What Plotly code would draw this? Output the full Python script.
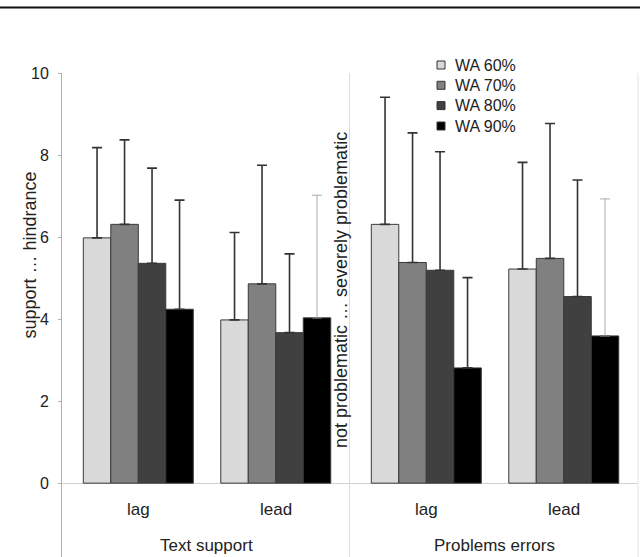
import plotly.graph_objects as go

categories = ["lag", "lead"]
panels = ["Text support", "Problems errors"]
series = ["WA 60%", "WA 70%", "WA 80%", "WA 90%"]
colors = ["#d9d9d9", "#808080", "#404040", "#000000"]

# means per series: [lag, lead]
text_support_means = {
    "WA 60%": [5.98, 3.98],
    "WA 70%": [6.31, 4.86],
    "WA 80%": [5.36, 3.67],
    "WA 90%": [4.24, 4.03],
}
text_support_upper = {
    "WA 60%": [8.18, 6.11],
    "WA 70%": [8.37, 7.75],
    "WA 80%": [7.68, 5.59],
    "WA 90%": [6.90, 7.02],
}
problems_means = {
    "WA 60%": [6.31, 5.22],
    "WA 70%": [5.38, 5.48],
    "WA 80%": [5.19, 4.55],
    "WA 90%": [2.81, 3.59],
}
problems_upper = {
    "WA 60%": [9.41, 7.82],
    "WA 70%": [8.54, 8.77],
    "WA 80%": [8.08, 7.39],
    "WA 90%": [5.01, 6.93],
}

y_ticks = [0, 2, 4, 6, 8, 10]
left_title = "support … hindrance"
right_title = "not problematic … severely problematic"

FONT = "Liberation Sans, Arial, sans-serif"
TXT = "#222222"

W, H = 640, 557
ML, MR, MT, MB = 62, 2, 73, 0
PW, PH = W - ML - MR, H - MT - MB


def px_x(p):
    return (p - ML) / PW


def px_y(p):
    return (H - MB - p) / PH


fig = go.Figure()

panel_data = [(text_support_means, text_support_upper, "x", "y"),
              (problems_means, problems_upper, "x2", "y2")]

for pi, (means, upper, xa, ya) in enumerate(panel_data):
    for si, s in enumerate(series):
        vals = means[s]
        errs = [u - v for u, v in zip(upper[s], vals)]
        thin = s == "WA 90%"
        main_err = [errs[0], None] if thin else errs
        fig.add_trace(go.Bar(
            x=categories, y=vals, name=s, xaxis=xa, yaxis=ya,
            offsetgroup=s, legendgroup=s, showlegend=False,
            marker=dict(color=colors[si], line=dict(color="#3a3a3a", width=1)),
            error_y=dict(type="data", symmetric=False, array=main_err,
                         arrayminus=[0] * len(vals), color="#333333",
                         thickness=1.6, width=5),
        ))
        if thin:
            fig.add_trace(go.Bar(
                x=[categories[1]], y=[vals[1]], name=s, xaxis=xa, yaxis=ya,
                offsetgroup=s, legendgroup=s, showlegend=False,
                marker=dict(color="rgba(0,0,0,0)", line=dict(width=0)),
                error_y=dict(type="data", symmetric=False, array=[errs[1]],
                             arrayminus=[0], color="#a0a0a0",
                             thickness=0.9, width=5),
                hoverinfo="skip",
            ))

yrange = [-1.8, 10]
xrange = [-0.555, 1.54]

annotations = []
for xa in ["x", "x2"]:
    for c in categories:
        annotations.append(dict(x=c, y=-0.63, xref=xa, yref="y", text=c,
                                showarrow=False, font=dict(size=17, color=TXT, family=FONT)))
for xa, p in zip(["x domain", "x2 domain"], panels):
    annotations.append(dict(x=0.5, y=-1.51, xref=xa, yref="y", text=p,
                            showarrow=False, font=dict(size=17, color=TXT, family=FONT)))
annotations.append(dict(x=px_x(17.5), xref="paper", y=px_y(255), yref="paper",
                        text=left_title, textangle=-90, showarrow=False,
                        font=dict(size=18, color=TXT, family=FONT)))
annotations.append(dict(x=px_x(341), xref="paper", y=px_y(290), yref="paper",
                        text=right_title, textangle=-90, showarrow=False,
                        font=dict(size=18, color=TXT, family=FONT)))

# legend (drawn manually to match the compact row spacing)
legend_rows = [65, 85.3, 105.6, 126]
shapes = []
for s, col, ry in zip(series, colors, legend_rows):
    shapes.append(dict(type="rect", xref="paper", yref="paper",
                       x0=px_x(437), x1=px_x(445), y0=px_y(ry + 4), y1=px_y(ry - 4),
                       fillcolor=col, line=dict(color="#333333", width=1)))
    annotations.append(dict(x=px_x(453), y=px_y(ry), xref="paper", yref="paper",
                            text=s, xanchor="left", yanchor="middle", showarrow=False,
                            font=dict(size=16, color=TXT, family=FONT)))

shapes += [
    dict(type="line", xref="paper", yref="paper", x0=px_x(0), x1=px_x(W),
         y0=px_y(7.5), y1=px_y(7.5), line=dict(color="#111111", width=2)),
    dict(type="line", xref="paper", yref="paper", x0=1, x1=1,
         y0=0, y1=1, line=dict(color="#e4e4e4", width=1)),
]

fig.update_layout(
    width=W, height=H,
    margin=dict(l=ML, r=MR, t=MT, b=MB),
    paper_bgcolor="white", plot_bgcolor="white",
    barmode="group", bargap=0.2, bargroupgap=0,
    showlegend=False,
    font=dict(family=FONT, size=16, color=TXT),
    xaxis=dict(domain=[0, 0.5], range=xrange, showticklabels=False,
               showgrid=False, zeroline=False, showline=False, ticks=""),
    xaxis2=dict(domain=[0.5, 1], range=xrange, showticklabels=False,
                showgrid=False, zeroline=False, showline=False, ticks="", anchor="y2"),
    yaxis=dict(range=yrange, tickvals=y_ticks, showgrid=False,
               zeroline=True, zerolinecolor="#d0d0d0", zerolinewidth=1,
               showline=True, linecolor="#b0b0b0", linewidth=1,
               ticks="outside", ticklen=3, tickcolor="#b0b0b0",
               ticklabelstandoff=6,
               tickfont=dict(size=16, color=TXT, family=FONT)),
    yaxis2=dict(range=yrange, anchor="x2", showticklabels=False, showgrid=False,
                zeroline=True, zerolinecolor="#d0d0d0", zerolinewidth=1,
                showline=True, linecolor="#dcdcdc", linewidth=1, ticks=""),
    annotations=annotations,
    shapes=shapes,
)

fig.write_html("out.html", config={"displayModeBar": False},
               post_script="document.body.style.margin='0';")
